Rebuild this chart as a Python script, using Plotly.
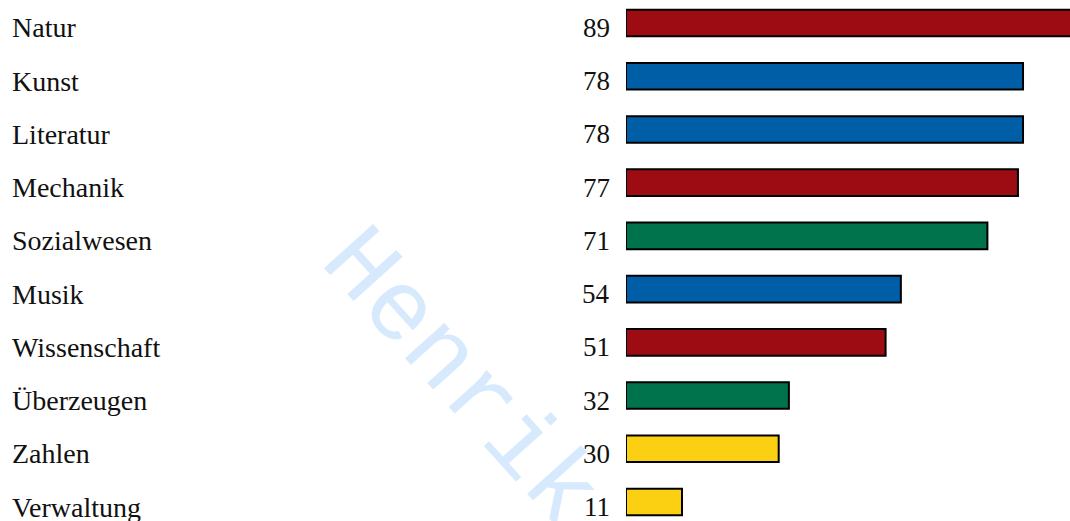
import plotly.graph_objects as go

# Interessenprofil: Kategorien, Werte, Farbgruppen
kategorien = ["Natur", "Kunst", "Literatur", "Mechanik", "Sozialwesen",
              "Musik", "Wissenschaft", "Überzeugen", "Zahlen", "Verwaltung"]
werte = [89, 78, 78, 77, 71, 54, 51, 32, 30, 11]
farben = ["#9c0c12", "#005ea6", "#005ea6", "#9c0c12", "#00734c",
          "#005ea6", "#9c0c12", "#00734c", "#fbd013", "#fbd013"]

SERIF = "Palatino Linotype, Book Antiqua, Palatino, Liberation Serif, serif"

fig = go.Figure()
fig.add_trace(go.Bar(
    x=werte, y=kategorien, orientation="h",
    marker=dict(color=farben, line=dict(color="black", width=2)),
    width=0.5, showlegend=False, hoverinfo="x+y",
))

# Beschriftungen links (Kategorie) und Zahlenwerte vor dem Balken
for kat, w in zip(kategorien, werte):
    fig.add_annotation(x=-1.387, xref="paper", y=kat, yref="y", text=kat,
                       showarrow=False, xanchor="left", yanchor="middle", yshift=-5,
                       font=dict(family=SERIF, size=28, color="#111"))
    fig.add_annotation(x=-0.0315, xref="paper", y=kat, yref="y", text=str(w),
                       showarrow=False, xanchor="right", yanchor="middle", yshift=-5,
                       font=dict(family=SERIF, size=27, color="#111"))

# Wasserzeichen
fig.add_annotation(x=-0.376, xref="paper", y=0.274, yref="paper", text="Henrik",
                   showarrow=False, textangle=48, xanchor="center", yanchor="middle",
                   font=dict(family="Liberation Mono, Courier New, monospace",
                             size=100, color="#d6e9fd"))

fig.update_layout(
    width=1070, height=521,
    margin=dict(l=626, r=0, t=0, b=0),
    paper_bgcolor="white", plot_bgcolor="white",
    xaxis=dict(range=[0, 87.23], visible=False, fixedrange=True),
    yaxis=dict(range=[9.357, -0.432], visible=False, fixedrange=True,
               categoryorder="array", categoryarray=kategorien),
)

# Body-Rand entfernen, damit die Figur das Fenster genau füllt
fig.write_html("out.html", config={"displayModeBar": False},
               post_script="document.body.style.margin='0';")
